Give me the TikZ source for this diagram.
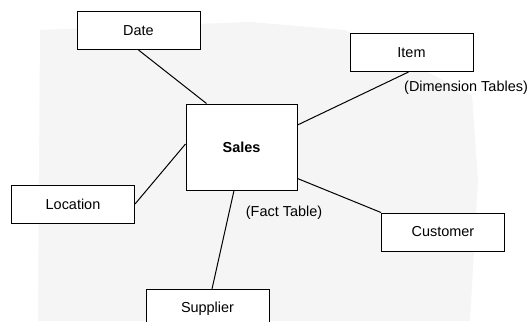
\documentclass[tikz,border=0pt]{standalone}
\usepackage{fontspec}
\setmainfont{Liberation Sans}
\begin{document}
\begin{tikzpicture}[x=1bp,y=-1bp,
  table/.style={draw, fill=white, line width=1bp, inner sep=0pt,
    font=\fontsize{14.5}{16}\selectfont},
  dimbox/.style={table, minimum width=123bp, minimum height=38bp},
  factbox/.style={table, minimum width=111bp, minimum height=86bp,
    font=\fontsize{14.5}{16}\selectfont\bfseries},
  note/.style={inner sep=0pt, font=\fontsize{14.5}{16}\selectfont},
  link/.style={line width=1bp}]
  \useasboundingbox (0,0) rectangle (531,321);
  \clip (0,0) rectangle (531,321);

  % light halftone-style backdrop
  \fill[black!4] (40,30) -- (250,22) -- (345,30) -- (472,95) -- (478,180)
    -- (470,321) -- (38,321) -- cycle;

  % fact table
  \node[factbox] (sales) at (241.5,147) {Sales};

  % dimension tables
  \node[dimbox] (date)     at (138.5,30.5) {Date};
  \node[dimbox] (item)     at (411.5,52.5) {Item};
  \node[dimbox] (location) at (73,204)     {Location};
  \node[dimbox] (customer) at (443,232)    {Customer};
  \node[dimbox, anchor=north] (supplier) at (207.5,289) {Supplier};

  % labels
  \node[note, anchor=west] (dimlabel)  at (404,88)  {(Dimension Tables)};
  \node[note]              (factlabel) at (284,213) {(Fact Table)};

  % links between the fact table and each dimension
  \draw[link] (date.south) -- ([xshift=21bp]sales.north west);
  \draw[link] ([yshift=22bp]sales.east) -- ([xshift=-3bp]item.south);
  \draw[link] (location.east) -- ([yshift=3bp]sales.west);
  \draw[link] ([xshift=-7.5bp]sales.south) -- ([xshift=4.5bp]supplier.north);
  \draw[link] ([yshift=12bp]sales.south east) -- (customer.north west);
\end{tikzpicture}
\end{document}
